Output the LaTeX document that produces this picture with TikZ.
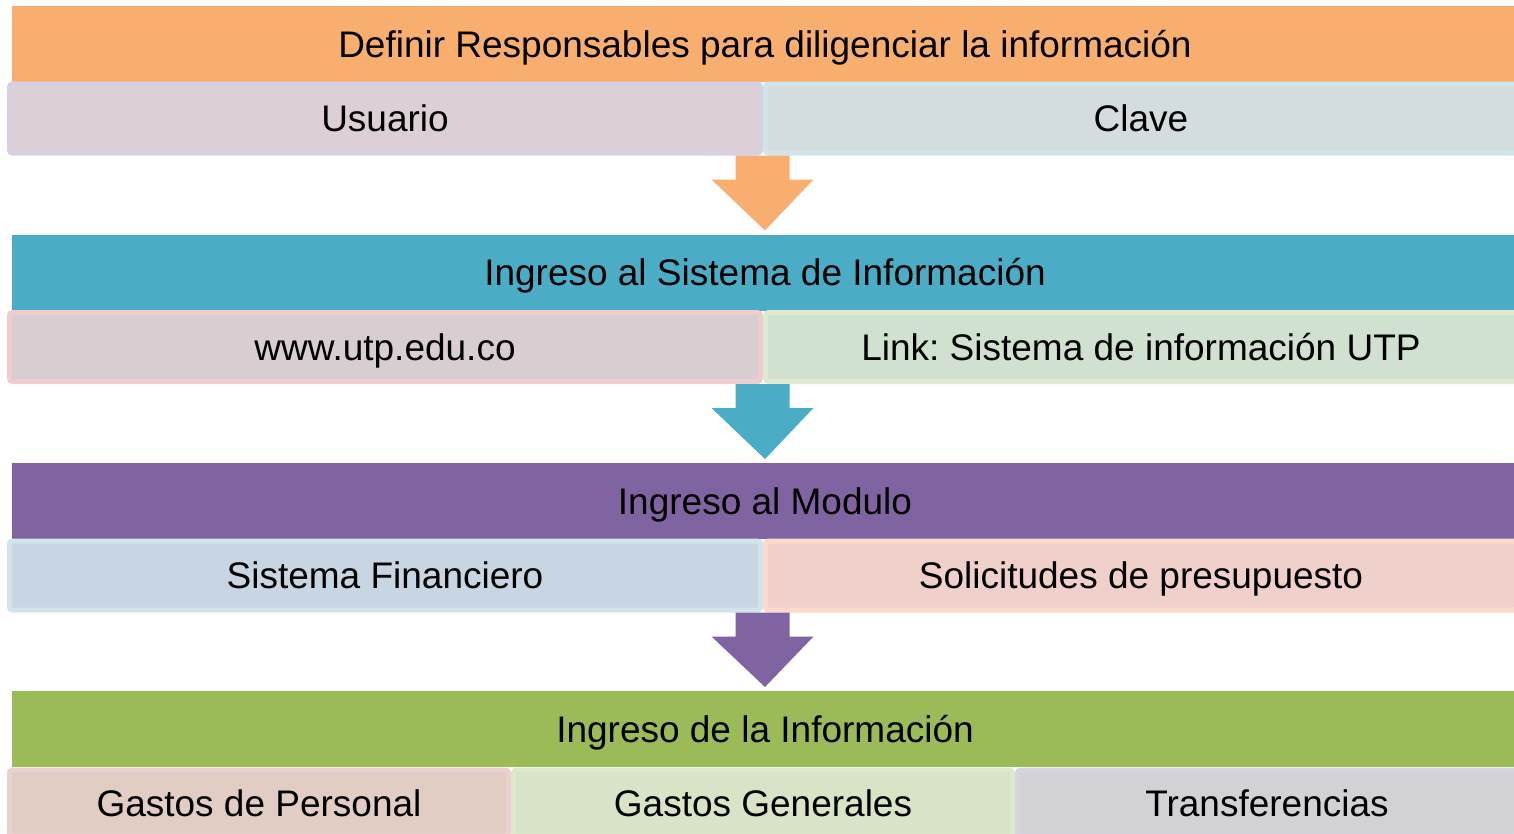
\documentclass[tikz,border=0pt]{standalone}
\usepackage{fontspec}
\setmainfont{Liberation Sans}
\usetikzlibrary{calc}
\frenchspacing
\definecolor{cOrange}{HTML}{F8AE6F}
\definecolor{cTeal}{HTML}{4BACC6}
\definecolor{cPurple}{HTML}{8064A2}
\definecolor{cGreen}{HTML}{9BBB59}
\definecolor{fUsu}{HTML}{DCD0D6}\definecolor{bUsu}{HTML}{D8D0E2}
\definecolor{fCla}{HTML}{D3DCDE}\definecolor{bCla}{HTML}{D0E4EA}
\definecolor{fWww}{HTML}{D8CDD0}\definecolor{bWww}{HTML}{EDCDCE}
\definecolor{fLnk}{HTML}{D1E1CF}\definecolor{bLnk}{HTML}{DFE9D2}
\definecolor{fSis}{HTML}{C7D6E2}\definecolor{bSis}{HTML}{D2E4E9}
\definecolor{fSol}{HTML}{F0D0CB}\definecolor{bSol}{HTML}{F9DACB}
\definecolor{fGp}{HTML}{E2CDC4}\definecolor{bGp}{HTML}{EBD0D0}
\definecolor{fGg}{HTML}{D8E4C5}\definecolor{bGg}{HTML}{DEE8CC}
\definecolor{fTr}{HTML}{D2D2D6}\definecolor{bTr}{HTML}{D8D4DE}
\newcommand\flowarrow[3]{%
  \fill[#3] ($(#1)+(-27,0)$) -- ($(#1)+(27,0)$) -- ($(#1)+(27,24)$) -- ($(#1)+(51,24)$)
    -- ($(#2)+(0,-4)$) -- ($(#1)+(-51,24)$) -- ($(#1)+(-27,24)$) -- cycle;}
\tikzset{
  txt/.style={font=\fontsize{37}{42}\selectfont, text=black, inner sep=0pt, outer sep=0pt,
    text height=26.5pt, text depth=0pt},
  header/.style={txt, minimum width=1506pt, minimum height=76pt},
  sub/.style={txt, line width=5pt, rounded corners=3pt, minimum height=69pt},
  half/.style={sub, minimum width=751pt},
  third/.style={sub, minimum width=499pt},
}
\begin{document}
\begin{tikzpicture}[x=1pt,y=-1pt]
\useasboundingbox (0,0) rectangle (1514,833);
\clip (0,0) rectangle (1514,833);
\fill[white] (0,0) rectangle (1514,833);
% row 1
\node[header, fill=cOrange] (h1) at (765,44) {Definir Responsables para diligenciar la información};
\node[half, fill=fUsu, draw=bUsu] (u1) at (385,118.5) {Usuario};
\node[half, fill=fCla, draw=bCla] (c1) at (1141,118.5) {Clave};
% row 2
\node[header, fill=cTeal] (h2) at (765,272.5) {Ingreso al Sistema de Información};
\node[half, fill=fWww, draw=bWww] (u2) at (385,347) {www.utp.edu.co};
\node[half, fill=fLnk, draw=bLnk] (c2) at (1141,347) {Link: Sistema de información UTP};
% row 3
\node[header, fill=cPurple] (h3) at (765,501) {Ingreso al Modulo};
\node[half, fill=fSis, draw=bSis] (u3) at (385,575.5) {Sistema Financiero};
\node[half, fill=fSol, draw=bSol] (c3) at (1141,575.5) {Solicitudes de presupuesto};
% row 4
\node[header, fill=cGreen] (h4) at (765,729) {Ingreso de la Información};
\node[third, fill=fGp, draw=bGp, minimum height=66pt] (g1) at (259,803) {Gastos de Personal};
\node[third, fill=fGg, draw=bGg, minimum height=66pt] (g2) at (763,803) {Gastos Generales};
\node[third, fill=fTr, draw=bTr, minimum height=66pt] (g3) at (1267,803) {Transferencias};
% arrows
\coordinate (a1) at ($(u1.south east)+(2,2.5)$);
\coordinate (a2) at ($(u2.south east)+(2,2.5)$);
\coordinate (a3) at ($(u3.south east)+(2,2.5)$);
\flowarrow{a1}{h2.north}{cOrange}
\flowarrow{a2}{h3.north}{cTeal}
\flowarrow{a3}{h4.north}{cPurple}
\end{tikzpicture}
\end{document}
